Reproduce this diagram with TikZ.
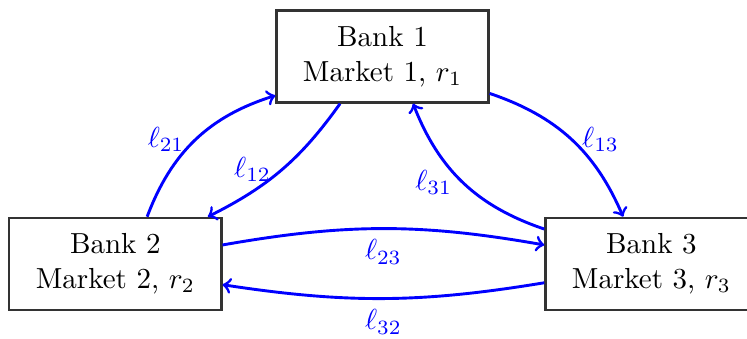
\documentclass[tikz,border=0pt]{standalone}
\usetikzlibrary{positioning}
\tikzset{
    bankbox/.style={draw=black!80, thick, align=center, minimum width=2.57cm, minimum height=1.115cm},
    lendarrow/.style={->, line width=1pt, blue}
}
\begin{document}
\begin{tikzpicture}
    \useasboundingbox (0,0) rectangle (9.054,4.097);
    \node[bankbox] (bank1) at (4.636,3.412) {Bank 1\\Market 1, \(r_1\)};
    \node[bankbox, below left=1.37cm and 0.64cm of bank1] (bank2) {Bank 2\\Market 2, \(r_2\)};
    \node[bankbox, right=3.9cm of bank2] (bank3) {Bank 3\\Market 3, \(r_3\)};

    \draw[lendarrow] (bank2.56) to[bend left=26] node[left] {\(\ell_{21}\)} (bank1.200);
    \draw[lendarrow] (bank1.228) to[bend left=14] node[left] {\(\ell_{12}\)} (bank2.27);
    \draw[lendarrow] (bank1.341) to[bend left=24] node[right] {\(\ell_{13}\)} (bank3.121);
    \draw[lendarrow] (bank3.162) to[bend left=25] node[left] {\(\ell_{31}\)} (bank1.303);
    \draw[lendarrow] (bank2.10) to[bend left=10] node[below] {\(\ell_{23}\)} (bank3.170);
    \draw[lendarrow] (bank3.190) to[bend left=9] node[below] {\(\ell_{32}\)} (bank2.349);
\end{tikzpicture}
\end{document}
